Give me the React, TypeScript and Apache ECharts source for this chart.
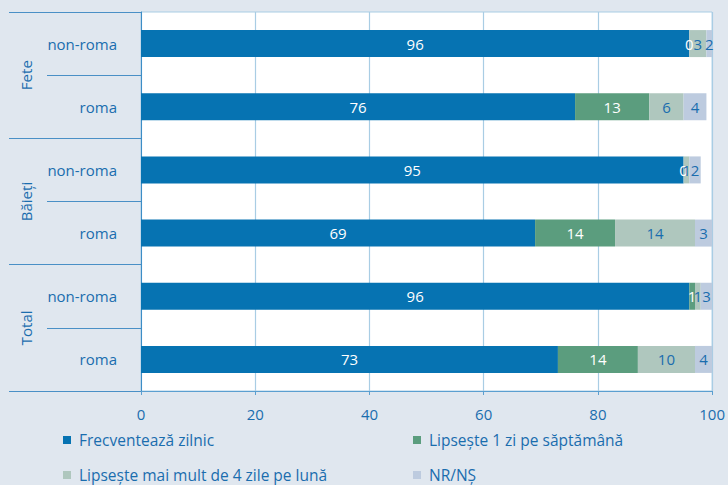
import React, { useEffect, useRef } from "react";
import * as echarts from "echarts";

const groups = ["Fete", "Băieți", "Total"];
const categories = ["non-roma", "roma", "non-roma", "roma", "non-roma", "roma"];
const seriesNames = [
  "Frecventează zilnic",
  "Lipsește 1 zi pe săptămână",
  "Lipsește mai mult de 4 zile pe lună",
  "NR/NȘ",
];
const frecventeaza = [96, 76, 95, 69, 96, 73];
const lipsesteSaptamana = [0, 13, 0, 14, 1, 14];
const lipsesteLuna = [3, 6, 1, 14, 1, 10];
const nrns = [2, 4, 2, 3, 3, 4];
const xTicks = [0, 20, 40, 60, 80, 100];

const colors = ["#0673B2", "#5B9D7E", "#AFC7BE", "#BDCBDF"];
const labelColors = ["#FFFFFF", "#FFFFFF", "#1A6DAE", "#1A6DAE"];
const TEXT = "#1A6DAE";
const FONT = "Open Sans";
const FS = 15;

const legendPos = [
  { left: 63, top: 432 },
  { left: 413, top: 432 },
  { left: 63, top: 467 },
  { left: 413, top: 467 },
];

export default function App() {
  const ref = useRef<HTMLDivElement>(null);
  useEffect(() => {
    if (!ref.current) return;
    const chart = echarts.init(ref.current, undefined, { renderer: "svg" });
    const values = [frecventeaza, lipsesteSaptamana, lipsesteLuna, nrns];
    const catData = categories.map((c, i) => ({ value: c + "#" + i }));
    chart.setOption({
      animation: false,
      backgroundColor: "#E0E7EF",
      textStyle: { fontFamily: FONT },
      grid: {
        left: 141,
        right: 13,
        top: 12,
        bottom: 94,
        show: true,
        backgroundColor: "#FFFFFF",
        borderColor: "#A9CDE4",
        borderWidth: 1,
      },
      xAxis: {
        type: "value",
        min: xTicks[0],
        max: xTicks[xTicks.length - 1],
        interval: 20,
        axisLine: { show: true, lineStyle: { color: "#5B9FD0", width: 1 } },
        axisTick: { show: true, length: 4, lineStyle: { color: "#5B9FD0" } },
        splitLine: { show: true, lineStyle: { color: "#A9CDE4", width: 1.2 } },
        axisLabel: { color: TEXT, fontSize: FS, fontFamily: FONT, margin: 15 },
      },
      yAxis: [
        {
          type: "category",
          inverse: true,
          data: catData,
          position: "left",
          axisLine: { show: true, lineStyle: { color: "#3C8DC6", width: 1 } },
          axisTick: { show: true, length: 94, lineStyle: { color: "#4A90C6" } },
          axisLabel: {
            color: TEXT,
            fontSize: FS,
            fontFamily: FONT,
            margin: 24,
            formatter: (v: string) => v.split("#")[0],
          },
        },
        {
          type: "category",
          inverse: true,
          data: groups,
          position: "left",
          axisLine: { show: false },
          axisTick: { show: true, length: 132, lineStyle: { color: "#4A90C6" } },
          axisLabel: {
            color: TEXT,
            fontSize: FS,
            fontFamily: FONT,
            rotate: 90,
            margin: 108,
          },
        },
      ],
      legend: seriesNames.map((name, i) => ({
        left: legendPos[i].left,
        top: legendPos[i].top,
        padding: 0,
        itemWidth: 8,
        itemHeight: 8,
        icon: "rect",
        data: [name],
        textStyle: { color: TEXT, fontSize: 15.5, fontFamily: FONT, padding: [0, 0, 0, 3] },
      })),
      series: values.map((vals, si) => ({
        name: seriesNames[si],
        type: "bar",
        stack: "total",
        yAxisIndex: 0,
        barWidth: 27,
        data: vals,
        itemStyle: { color: colors[si] },
        label: {
          show: true,
          position: "inside",
          color: labelColors[si],
          fontSize: FS,
          fontFamily: FONT,
        },
      })),
    });
    return () => chart.dispose();
  }, []);
  return (
    <div
      ref={ref}
      style={{ position: "absolute", left: 0, top: 0, width: 728, height: 485 }}
    />
  );
}
